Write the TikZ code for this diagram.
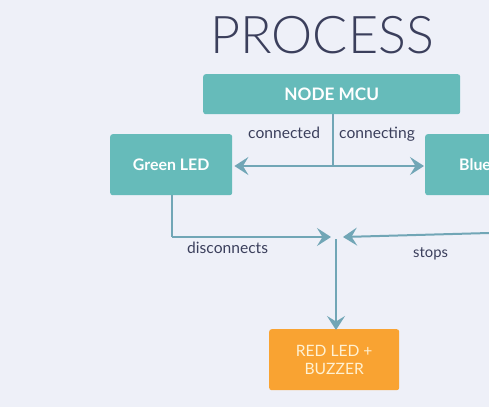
\documentclass[tikz,border=0pt]{standalone}
\usepackage{fontspec}
\setmainfont{Lato}
\newfontfamily\titlefont[UprightFont={* Light}]{Lato}
\usetikzlibrary{arrows.meta}
\definecolor{bg}{HTML}{EEF0F8}
\definecolor{teal}{HTML}{66BBBA}
\definecolor{orng}{HTML}{F9A332}
\definecolor{arr}{HTML}{71A6B6}
\definecolor{ink}{HTML}{3B3F5C}
\definecolor{paleyellow}{HTML}{FFF1D2}
\tikzset{
  box/.style={rounded corners=2.5pt, inner sep=0pt, anchor=north west},
  tealbox/.style={box, fill=teal, text=white, font=\fontsize{15.9}{18}\selectfont\bfseries},
  conn/.style={draw=arr, line width=2pt, -{Stealth[length=14pt,width=18pt,inset=5.5pt]}},
  plain/.style={draw=arr, line width=2pt},
  lbl/.style={text=ink, font=\fontsize{15.6}{18}\selectfont, inner sep=0pt},
}
\begin{document}
\begin{tikzpicture}[x=1pt,y=-1pt]
\fill[bg] (0,0) rectangle (489,407);
\useasboundingbox (0,0) rectangle (489,407);
\clip (0,0) rectangle (489,407);
\node[text=ink, font=\titlefont\fontsize{52}{56}\selectfont, inner sep=0pt] (title) at (322,35) {PROCESS};
\node[tealbox, minimum width=257pt, minimum height=40pt, font=\fontsize{17.2}{19}\selectfont\bfseries] (mcu) at (203,74) {NODE MCU};
\node[tealbox, minimum width=122pt, minimum height=61pt] (green) at (110,134) {Green LED};
\node[tealbox, minimum width=122pt, minimum height=61pt, text width=98pt, align=left] (blue) at (425,134) {\hspace*{22pt}Blue LED};
\node[box, fill=orng, text=paleyellow, minimum width=130pt, minimum height=61pt, font=\fontsize{15.6}{18}\selectfont, align=center] (red) at (269,329) {RED LED +\\BUZZER};
\coordinate (split) at (333,166);
\coordinate (meet) at (336,237);
\coordinate (corner) at (172,237);
\coordinate (rightend) at (489,233);
\draw[plain] (mcu.south -| split) -- (split);
\draw[conn] (split) -- ([xshift=2pt]green.east |- split);
\draw[conn] (split) -- ([xshift=-1pt]blue.west |- split);
\draw[plain] (green.south -| corner) -- (corner);
\draw[conn] (corner) -- ([xshift=-5pt]meet);
\draw[conn] (rightend) -- ([xshift=7pt]meet);
\draw[conn] ([yshift=-2pt]meet) -- ([yshift=-1pt]red.north -| meet);
\node[lbl, anchor=west] (l1) at (248,133) {connected};
\node[lbl, anchor=west] (l2) at (339,134) {connecting};
\node[lbl, anchor=west] (l3) at (187,248) {disconnects};
\node[lbl, anchor=west, font=\fontsize{14.8}{17}\selectfont] (l4) at (413,254) {stops};
\end{tikzpicture}
\end{document}
